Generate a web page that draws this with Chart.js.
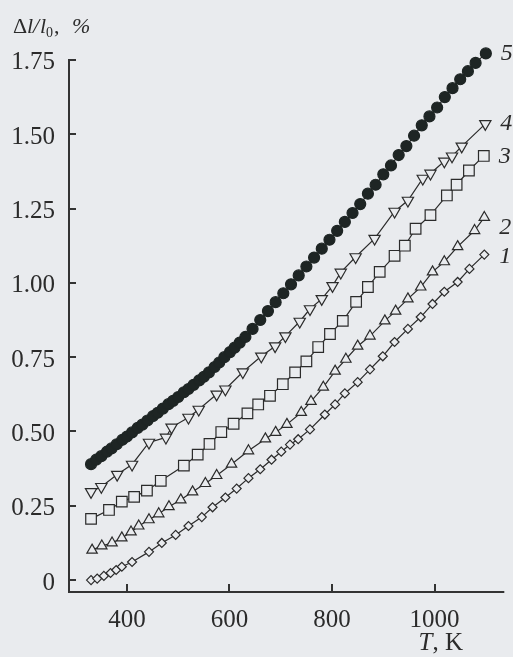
<!DOCTYPE html>
<html>
<head>
<meta charset="utf-8">
<script src="https://cdn.jsdelivr.net/npm/chart.js@4.4.1/dist/chart.umd.min.js"></script>
<style>
  html, body { margin: 0; padding: 0; background: #e9ebee; }
  #wrap { width: 513px; height: 657px; position: relative; }
</style>
</head>
<body>
<div id="wrap"><canvas id="relChart"></canvas></div>
<script>
// temperature (K) and relative elongation (%)
const t1 = [330, 342, 355, 368, 379, 390, 410, 443, 468, 495, 520, 546, 567, 592, 614, 637, 660, 682, 701, 718, 734, 757, 786, 806, 825, 850, 874, 899, 922, 948, 973, 996, 1019, 1045, 1068, 1097];
const v1 = [0.00, 0.005, 0.014, 0.024, 0.034, 0.045, 0.061, 0.095, 0.125, 0.152, 0.182, 0.212, 0.245, 0.278, 0.308, 0.343, 0.373, 0.405, 0.432, 0.456, 0.474, 0.507, 0.557, 0.591, 0.628, 0.666, 0.709, 0.753, 0.801, 0.845, 0.885, 0.929, 0.970, 1.003, 1.047, 1.095];

const t2 = [332, 351, 371, 390, 408, 423, 443, 462, 482, 505, 528, 553, 575, 604, 637, 670, 690, 712, 740, 759, 783, 806, 827, 850, 874, 903, 924, 948, 973, 996, 1019, 1045, 1078, 1097];
const v2 = [0.101, 0.115, 0.125, 0.142, 0.162, 0.182, 0.203, 0.223, 0.247, 0.270, 0.297, 0.325, 0.352, 0.390, 0.435, 0.475, 0.497, 0.524, 0.564, 0.601, 0.649, 0.703, 0.743, 0.787, 0.821, 0.872, 0.905, 0.946, 0.986, 1.037, 1.071, 1.122, 1.176, 1.220];

const t3 = [330, 365, 390, 414, 439, 466, 511, 538, 561, 584, 608, 635, 656, 679, 704, 728, 750, 773, 796, 821, 847, 870, 893, 922, 942, 963, 992, 1024, 1043, 1067, 1096];
const v3 = [0.206, 0.236, 0.264, 0.280, 0.301, 0.334, 0.385, 0.422, 0.458, 0.498, 0.526, 0.561, 0.591, 0.620, 0.659, 0.699, 0.736, 0.784, 0.828, 0.872, 0.936, 0.986, 1.037, 1.091, 1.125, 1.182, 1.228, 1.294, 1.330, 1.378, 1.427];

const t4 = [330, 350, 381, 410, 443, 476, 487, 520, 540, 575, 592, 626, 662, 689, 709, 737, 757, 780, 801, 817, 846, 883, 922, 948, 977, 992, 1019, 1034, 1053, 1099];
const v4 = [0.297, 0.314, 0.355, 0.389, 0.463, 0.480, 0.514, 0.547, 0.574, 0.625, 0.642, 0.700, 0.753, 0.787, 0.821, 0.870, 0.912, 0.946, 0.990, 1.035, 1.087, 1.149, 1.240, 1.277, 1.351, 1.368, 1.409, 1.426, 1.459, 1.535];

const t5 = [330, 340, 350, 361, 370, 380, 391, 400, 410, 421, 430, 440, 451, 460, 470, 481, 490, 500, 511, 520, 530, 541, 550, 560, 571, 580, 590, 601, 610, 620, 631, 645, 660, 675, 690, 705, 720, 735, 750, 765, 780, 795, 810, 825, 840, 855, 870, 885, 900, 915, 930, 945, 960, 975, 990, 1005, 1020, 1035, 1050, 1065, 1080, 1100];
const v5 = [0.39, 0.405, 0.417, 0.432, 0.443, 0.457, 0.472, 0.483, 0.497, 0.512, 0.523, 0.537, 0.552, 0.563, 0.577, 0.592, 0.603, 0.616, 0.632, 0.643, 0.657, 0.672, 0.684, 0.699, 0.717, 0.732, 0.75, 0.767, 0.782, 0.799, 0.818, 0.845, 0.875, 0.905, 0.935, 0.965, 0.995, 1.025, 1.055, 1.085, 1.115, 1.145, 1.175, 1.205, 1.235, 1.265, 1.30, 1.33, 1.365, 1.395, 1.43, 1.46, 1.495, 1.53, 1.56, 1.59, 1.625, 1.655, 1.685, 1.712, 1.74, 1.772];

const seriesNames = ['1', '2', '3', '4', '5'];
const xTicks = [400, 600, 800, 1000];
const yTicks = [0, 0.25, 0.5, 0.75, 1.0, 1.25, 1.5, 1.75];

const bg = '#e9ebee';
const ink = '#2b2b2b';
const axisInk = '#333';
const serif = "'Liberation Serif', 'DejaVu Serif', serif";

function pts(ts, vs) {
    return ts.map((t, i) => ({ x: t, y: vs[i] }));
}

function series(label, ts, vs, style) {
    return Object.assign({
        label: label,
        data: pts(ts, vs),
        borderColor: ink,
        borderWidth: 1.2,
        pointBorderColor: ink,
        pointBorderWidth: 1.2,
        pointBackgroundColor: bg,
        pointHoverRadius: 0,
        tension: 0,
        clip: false,
        labelDy: 0
    }, style);
}

// axis lines, inward tick marks, axis titles and curve numbers
const decorations = {
    id: 'decorations',
    afterDraw(chart) {
        const { ctx, chartArea: a, scales: { x, y } } = chart;
        const top = Math.round(y.getPixelForValue(yTicks[yTicks.length - 1]));
        const left = Math.round(a.left);
        const bottom = Math.round(a.bottom);
        ctx.save();
        ctx.fillStyle = axisInk;
        // axis lines
        ctx.fillRect(left - 1, top - 1, 2, bottom - top + 2);
        ctx.fillRect(left - 1, bottom - 1, a.right - left + 1, 2);
        // inward ticks
        xTicks.forEach(t => {
            const px = Math.round(x.getPixelForValue(t));
            ctx.fillRect(px - 1, bottom - 8, 2, 8);
        });
        yTicks.forEach(t => {
            const py = Math.round(y.getPixelForValue(t));
            ctx.fillRect(left, py - 1, 7, 2);
        });

        ctx.fillStyle = ink;
        ctx.textBaseline = 'alphabetic';

        // y title: Δl/l0, %
        const by = 33;
        const parts = [
            ['Δ', 'normal', 22, 13, 0],
            ['l', 'italic', 22, 27, 0],
            ['/', 'italic', 22, 33, 0],
            ['l', 'italic', 22, 40, 0],
            ['0', 'normal', 14, 46, 4],
            [',', 'normal', 22, 54, 0],
            ['%', 'italic', 22, 72, 0]
        ];
        parts.forEach(([s, st, sz, px, dy]) => {
            ctx.font = st + ' ' + sz + 'px ' + serif;
            ctx.fillText(s, px, by + dy);
        });

        // x title: T, K
        ctx.font = 'italic 25px ' + serif;
        const wT = ctx.measureText('T').width;
        ctx.font = 'normal 25px ' + serif;
        const wK = ctx.measureText(', K').width;
        const xs = 463 - wT - wK;
        ctx.font = 'italic 25px ' + serif;
        ctx.fillText('T', xs, 650);
        ctx.font = 'normal 25px ' + serif;
        ctx.fillText(', K', xs + wT, 650);

        // curve numbers next to the last point
        ctx.font = 'italic 24px ' + serif;
        ctx.textBaseline = 'middle';
        chart.data.datasets.forEach((ds, i) => {
            const meta = chart.getDatasetMeta(i);
            const last = meta.data[meta.data.length - 1];
            ctx.fillText(ds.label, last.x + 15, last.y + ds.labelDy);
        });
        ctx.restore();
    }
};

const ctx = document.getElementById('relChart').getContext('2d');

const relChart = new Chart(ctx, {
    type: 'line',
    data: {
        datasets: [
            series(seriesNames[0], t1, v1, { pointStyle: 'rectRot', pointRadius: 4.5, labelDy: 2 }),
            series(seriesNames[1], t2, v2, { pointStyle: 'triangle', pointRadius: 6, labelDy: 10 }),
            series(seriesNames[2], t3, v3, { pointStyle: 'rect', pointRadius: 7.5, labelDy: 1 }),
            series(seriesNames[3], t4, v4, { pointStyle: 'triangle', pointRotation: 180, pointRadius: 6.5 }),
            series(seriesNames[4], t5, v5, { pointStyle: 'circle', pointRadius: 5.5, pointBackgroundColor: '#1e2524', pointBorderColor: '#1e2524' })
        ]
    },
    options: {
        responsive: true,
        maintainAspectRatio: false,
        animation: false,
        layout: { padding: { top: 51, right: 6, left: 0, bottom: 0 } },
        plugins: {
            legend: { display: false },
            tooltip: { enabled: false }
        },
        scales: {
            x: {
                type: 'linear',
                min: 287,
                max: 1136,
                afterBuildTicks: s => { s.ticks = xTicks.map(v => ({ value: v })); },
                afterFit: s => { s.height = 65; },
                grid: { display: false, drawTicks: false },
                border: { display: false },
                ticks: {
                    color: ink,
                    padding: 13,
                    maxRotation: 0,
                    font: { family: serif, size: 25 },
                    callback: v => String(v)
                }
            },
            y: {
                type: 'linear',
                min: -0.04,
                max: 1.78,
                afterBuildTicks: s => { s.ticks = yTicks.map(v => ({ value: v })); },
                afterFit: s => { s.width = 69; },
                grid: { display: false, drawTicks: false },
                border: { display: false },
                ticks: {
                    color: ink,
                    padding: 14,
                    labelOffset: 3,
                    font: { family: serif, size: 25 },
                    callback: v => (v === 0 ? '0' : v.toFixed(2))
                }
            }
        }
    },
    plugins: [decorations]
});
</script>
</body>
</html>
